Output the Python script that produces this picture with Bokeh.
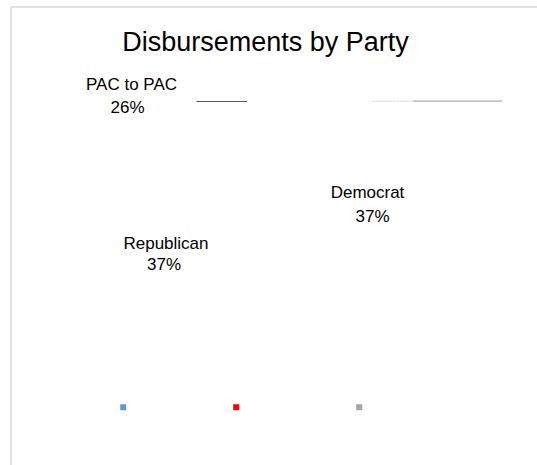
from bokeh.plotting import figure
from bokeh.models import Range1d, ColumnDataSource
from bokeh.core.properties import value
from bokeh.embed import file_html
from bokeh.resources import INLINE
import math

# ---- data ----
categories = ["Democrat", "Republican", "PAC to PAC"]
shares = [37, 37, 26]
colors = ["#5B9BD5", "#FF0000", "#A5A5A5"]
title_text = "Disbursements by Party"

# ---- layout (pixel coordinates) ----
W, H = 537, 465
name_x = [367, 165.5, 131]
pct_x = [372, 163.5, 127]
name_y = [191.7, 242.5, 84]
pct_y = [215.5, 263.5, 106.5]
legend_x = [122.7, 235.7, 358.7]
legend_y = 406.7
FONT = "Liberation Sans"

p = figure(width=W, height=H, output_backend="svg", toolbar_location=None,
           x_range=Range1d(0, W), y_range=Range1d(H, 0),
           min_border=0, outline_line_color=None)
p.axis.visible = False
p.grid.visible = False
p.background_fill_color = "white"
p.border_fill_color = "white"

total = float(sum(shares))

# invisible (white) pie, as in the reference
starts, ends = [], []
acc = 0.0
for s in shares:
    starts.append(2 * math.pi * acc / total)
    acc += s
    ends.append(2 * math.pi * acc / total)
p.wedge(x=[266] * 3, y=[300] * 3, radius=95, start_angle=starts, end_angle=ends,
        fill_color="white", line_color=None)

# chart border (left and top visible)
p.segment(x0=[10.5, 10.5], y0=[6.5, 6.5], x1=[10.5, W], y1=[H, 6.5],
          line_color="#d9d9d9", line_width=1.5)

# title
p.text(x=[265], y=[41.5], text=[title_text], text_align="center",
       text_baseline="alphabetic", text_font=value(FONT),
       text_font_size="27px", text_color="#000000")

# data labels
pct = [f"{round(100 * s / total)}%" for s in shares]
src = ColumnDataSource(dict(nx=name_x, px=pct_x, ny=name_y, py=pct_y,
                            name=categories, pct=pct))
p.text(x="nx", y="ny", text="name", source=src, text_align="center",
       text_baseline="alphabetic", text_font=value(FONT),
       text_font_size="17px", text_color="#000000")
p.text(x="px", y="py", text="pct", source=src, text_align="center",
       text_baseline="alphabetic", text_font=value(FONT),
       text_font_size="17px", text_color="#000000")

# leader lines
p.segment(x0=[196], y0=[101], x1=[246.5], y1=[101], line_color="#555555", line_width=1)
p.segment(x0=[372], y0=[100.7], x1=[413], y1=[100.7], line_color="#cccccc",
          line_width=1, line_dash="2 1")
p.segment(x0=[413], y0=[100.7], x1=[502], y1=[100.7], line_color="#aaaaaa", line_width=1.2)

# legend markers (no label text shown in reference)
p.scatter(x=legend_x, y=[legend_y] * len(categories), marker="square", size=6,
          fill_color=colors, line_color=None)

open("out.html", "w").write(file_html(p, INLINE))
